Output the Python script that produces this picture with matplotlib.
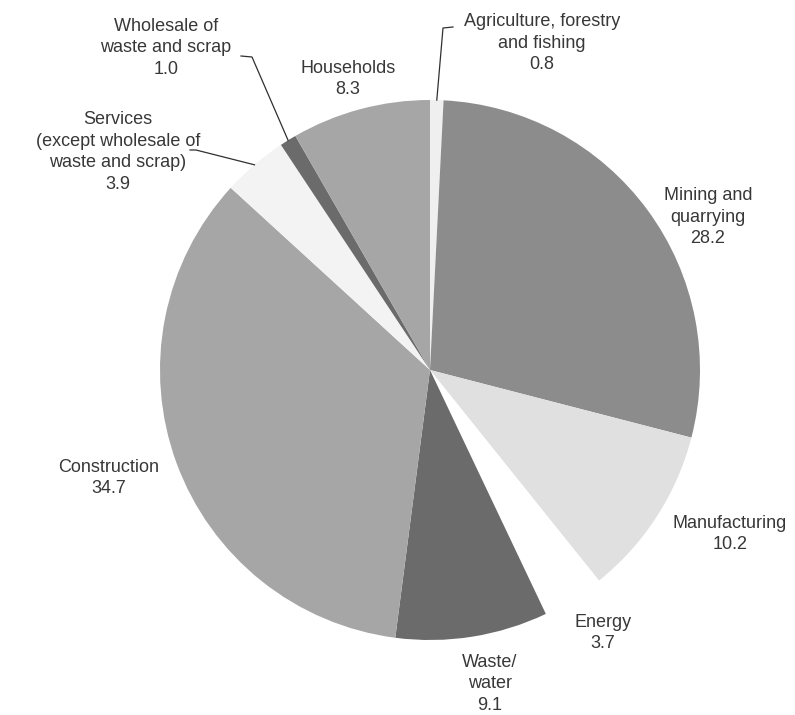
import matplotlib
matplotlib.use("Agg")
import matplotlib.pyplot as plt
import numpy as np

plt.rcParams['font.family'] = ['Liberation Sans', 'DejaVu Sans']

categories = ["Agriculture, forestry\nand fishing", "Mining and\nquarrying", "Manufacturing",
              "Energy", "Waste/\nwater", "Construction",
              "Services\n(except wholesale of\nwaste and scrap)", "Wholesale of\nwaste and scrap",
              "Households"]
values = [0.8, 28.2, 10.2, 3.7, 9.1, 34.7, 3.9, 1.0, 8.3]
value_labels = ["0.8", "28.2", "10.2", "3.7", "9.1", "34.7", "3.9", "1.0", "8.3"]
colors = ["#efefef", "#8c8c8c", "#e0e0e0", "#ffffff", "#6b6b6b", "#a6a6a6",
          "#f3f3f3", "#6b6b6b", "#a6a6a6"]

W, H = 795, 715
fig = plt.figure(figsize=(W / 100, H / 100), dpi=100)
ax = fig.add_axes([0, 0, 1, 1])

cx, cy, R = 430, 370, 270  # pixel layout (y from top)


def P(x, y):
    return x, H - y


wedges, _ = ax.pie(values, colors=colors, startangle=90, counterclock=False,
                   center=P(cx, cy), radius=R, wedgeprops=dict(linewidth=0))
ax.set_xlim(0, W)
ax.set_ylim(0, H)
ax.set_aspect('equal')
ax.axis('off')

# label centre positions (pixels, y from top)
label_pos = [(542, 43), (708, 217), (730, 534), (603, 633), (490, 684),
             (109, 478), (118, 152), (166, 48), (348, 79)]

for cat, vl, (x, y) in zip(categories, value_labels, label_pos):
    ax.text(*P(x, y), cat + "\n" + vl, ha='center', va='center', fontsize=13,
            color='#383838', linespacing=1.38)

# leader lines for small slices
def wedge_point(w, r=R):
    ang = np.deg2rad((w.theta1 + w.theta2) / 2)
    return cx + r * np.cos(ang), cy - r * np.sin(ang)

leaders = {0: [(443, 28), (453, 27)], 6: [(196, 150), (190, 150)], 7: [(252, 57), (241, 56)]}
for i, pts in leaders.items():
    sx, sy = wedge_point(wedges[i])
    xs = [sx] + [p[0] for p in pts]
    ys = [H - sy] + [H - p[1] for p in pts]
    ax.plot(xs, ys, color='#303030', lw=0.9)

fig.savefig("out.png", dpi=100)
